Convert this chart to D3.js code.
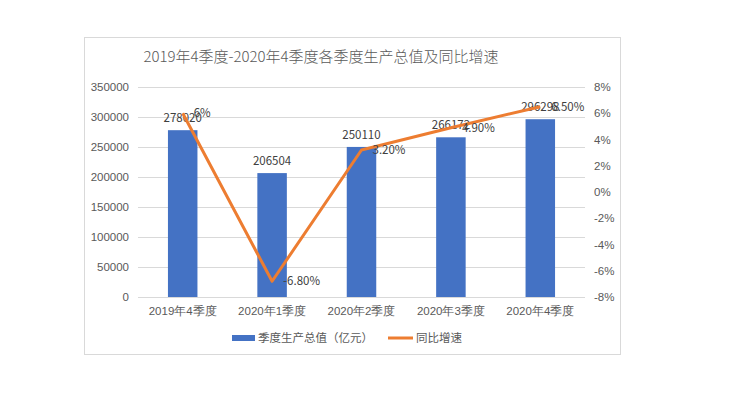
<!DOCTYPE html>
<html>
<head>
<meta charset="utf-8">
<script src="https://cdn.jsdelivr.net/npm/d3@7"></script>
<style>
  body { margin: 0; background: #fff; }
  svg { display: block; font-family: "Noto Sans CJK SC", "DejaVu Sans", sans-serif; }
</style>
</head>
<body>
<svg width="739" height="393"></svg>
<script>
// --- data ---
const quarters = ["2019年4季度", "2020年1季度", "2020年2季度", "2020年3季度", "2020年4季度"];
const gdpValues = [278020, 206504, 250110, 266172, 296298];
const growthRates = [6, -6.8, 3.2, 4.9, 6.5];
const growthLabels = ["6%", "-6.80%", "3.20%", "4.90%", "6.50%"];
const leftTicks = [0, 50000, 100000, 150000, 200000, 250000, 300000, 350000];
const rightTicks = [-8, -6, -4, -2, 0, 2, 4, 6, 8];

const svg = d3.select("svg");
const TEXT = "#595959";
const BAR = "#4472C4";
const LINE = "#ED7D31";

// chart frame
svg.append("rect")
  .attr("x", 84.5).attr("y", 37.5)
  .attr("width", 536).attr("height", 317)
  .attr("fill", "#fff").attr("stroke", "#d9d9d9");

// title
svg.append("text")
  .attr("x", 321).attr("y", 62)
  .attr("text-anchor", "middle")
  .attr("fill", TEXT)
  .attr("font-size", 15)
  .attr("font-weight", 300)
  .text("2019年4季度-2020年4季度各季度生产总值及同比增速");

const plot = { left: 138, right: 585, top: 87, bottom: 297 };

const x = d3.scaleBand()
  .domain(quarters)
  .range([plot.left, plot.right])
  .paddingInner(0.67)
  .paddingOuter(0.335);

const yL = d3.scaleLinear().domain([0, 350000]).range([plot.bottom, plot.top]);
const yR = d3.scaleLinear().domain([-8, 8]).range([plot.bottom, plot.top]);

// gridlines
svg.append("g")
  .selectAll("line")
  .data(leftTicks)
  .enter()
  .append("line")
  .attr("x1", plot.left).attr("x2", plot.right)
  .attr("y1", (d) => Math.round(yL(d)) + 0.5)
  .attr("y2", (d) => Math.round(yL(d)) + 0.5)
  .attr("stroke", "#d9d9d9");

// left axis
const leftAxis = svg.append("g")
  .attr("transform", `translate(${plot.left},0)`)
  .call(d3.axisLeft(yL).tickValues(leftTicks).tickSize(0).tickPadding(9).tickFormat(d3.format("d")));
leftAxis.select(".domain").remove();
leftAxis.selectAll("text").attr("fill", TEXT).attr("font-size", 11.5).attr("font-family", "inherit");

// right axis
const rightAxis = svg.append("g")
  .attr("transform", `translate(${plot.right},0)`)
  .call(d3.axisRight(yR).tickValues(rightTicks).tickSize(0).tickPadding(9).tickFormat((d) => d + "%"));
rightAxis.select(".domain").remove();
rightAxis.selectAll("text").attr("fill", TEXT).attr("font-size", 11.5).attr("font-family", "inherit");

// bottom axis
const bottomAxis = svg.append("g")
  .attr("transform", `translate(0,${plot.bottom})`)
  .call(d3.axisBottom(x).tickSize(0).tickPadding(10));
bottomAxis.select(".domain").remove();
bottomAxis.selectAll("text").attr("fill", TEXT).attr("font-size", 11.5).attr("font-family", "inherit");

// bars
svg.append("g")
  .selectAll("rect")
  .data(quarters)
  .enter()
  .append("rect")
  .attr("x", (d) => x(d))
  .attr("width", x.bandwidth())
  .attr("y", (d, i) => yL(gdpValues[i]))
  .attr("height", (d, i) => plot.bottom - yL(gdpValues[i]))
  .attr("fill", BAR);

// bar labels (overlap with line labels as in the original)
svg.append("g")
  .selectAll("text")
  .data(quarters)
  .enter()
  .append("text")
  .attr("x", (d) => x(d) + x.bandwidth() / 2)
  .attr("y", (d, i) => yL(gdpValues[i]) - 8)
  .attr("text-anchor", "middle")
  .attr("fill", "#404040")
  .attr("font-size", 11.5)
  .text((d, i) => gdpValues[i]);

// growth line
const line = d3.line()
  .x((d, i) => x(quarters[i]) + x.bandwidth() / 2)
  .y((d) => yR(d));

svg.append("path")
  .datum(growthRates)
  .attr("d", line)
  .attr("fill", "none")
  .attr("stroke", LINE)
  .attr("stroke-width", 3)
  .attr("stroke-linejoin", "round");

// line labels
svg.append("g")
  .selectAll("text")
  .data(growthRates)
  .enter()
  .append("text")
  .attr("x", (d, i) => x(quarters[i]) + x.bandwidth() / 2 + 11)
  .attr("y", (d) => yR(d))
  .attr("dy", "0.35em")
  .attr("fill", "#404040")
  .attr("font-size", 11.5)
  .text((d, i) => growthLabels[i]);

// legend
const legend = svg.append("g");
legend.append("rect")
  .attr("x", 232).attr("y", 335)
  .attr("width", 23).attr("height", 6)
  .attr("fill", BAR);
legend.append("text")
  .attr("x", 258).attr("y", 338).attr("dy", "0.35em")
  .attr("fill", TEXT).attr("font-size", 11.5)
  .text("季度生产总值（亿元）");
legend.append("line")
  .attr("x1", 388).attr("x2", 413)
  .attr("y1", 338).attr("y2", 338)
  .attr("stroke", LINE).attr("stroke-width", 3);
legend.append("text")
  .attr("x", 416).attr("y", 338).attr("dy", "0.35em")
  .attr("fill", TEXT).attr("font-size", 11.5)
  .text("同比增速");
</script>
</body>
</html>
